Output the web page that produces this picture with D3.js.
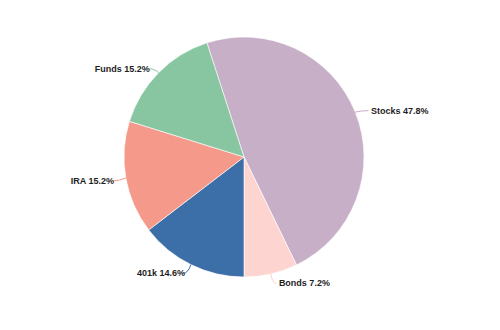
<!DOCTYPE html>
<html>
<head>
<meta charset="utf-8">
<script src="https://cdn.jsdelivr.net/npm/d3@7"></script>
<style>
  body { margin: 0; background: #fff; }
  .label { font-family: "Liberation Sans", Arial, sans-serif; font-size: 9px; font-weight: bold; fill: #1e1e1e; }
</style>
</head>
<body>
<div id="chart"></div>
<script>
var categories = ["Stocks", "Bonds", "401k", "IRA", "Funds"];
var shares = [47.8, 7.2, 14.6, 15.2, 15.2];
var colors = ["#c8afc8", "#fdd4cf", "#3c6ea8", "#f5998a", "#88c6a2"];

var width = 500, height = 330,
    cx = 244, cy = 157,
    radius = 120;

var data = categories.map(function(c, i) { return {name: c, value: shares[i], color: colors[i]}; });

var svg = d3.select("#chart").append("svg")
    .attr("width", width)
    .attr("height", height)
  .append("g")
    .attr("transform", "translate(" + cx + "," + cy + ")");

var startAngle = -18 * Math.PI / 180;
var pie = d3.pie()
    .sort(null)
    .value(function(d) { return d.value; })
    .startAngle(startAngle)
    .endAngle(startAngle + 2 * Math.PI);

var arc = d3.arc().innerRadius(0).outerRadius(radius);
var arcs = pie(data);

svg.selectAll(".slice")
    .data(arcs)
  .enter().append("path")
    .attr("class", "slice")
    .attr("d", arc)
    .style("fill", function(d) { return d.data.color; })
    .style("stroke", "#fff")
    .style("stroke-width", 0.6);

// point on a circle at the middle angle of a slice
function atRadius(d, r) {
  var a = (d.startAngle + d.endAngle) / 2;
  return [r * Math.sin(a), -r * Math.cos(a)];
}

// label anchor: x a bit further out than y
function labelPos(d) {
  var lx = atRadius(d, radius + 11)[0],
      ly = atRadius(d, radius + 8)[1] + 1.5;
  return [lx, ly];
}

// connectors
svg.selectAll(".connector")
    .data(arcs)
  .enter().append("path")
    .attr("class", "connector")
    .attr("d", function(d) {
      var e = atRadius(d, radius),
          m = atRadius(d, radius + 6),
          l = labelPos(d),
          side = l[0] > 0 ? 1 : -1;
      return "M" + e[0] + "," + e[1] + "Q" + m[0] + "," + l[1] + " " + (l[0] + side * 3) + "," + l[1];
    })
    .style("fill", "none")
    .style("stroke", function(d) { return d.data.color; })
    .style("stroke-width", 1);

// labels
svg.selectAll(".label")
    .data(arcs)
  .enter().append("text")
    .attr("class", "label")
    .attr("x", function(d) { var l = labelPos(d); return l[0] + (l[0] > 0 ? 5.5 : -1); })
    .attr("y", function(d) { return labelPos(d)[1]; })
    .attr("dy", ".35em")
    .style("text-anchor", function(d) { return atRadius(d, 1)[0] > 0 ? "start" : "end"; })
    .text(function(d) { return d.data.name + " " + d.data.value.toFixed(1) + "%"; });
</script>
</body>
</html>
